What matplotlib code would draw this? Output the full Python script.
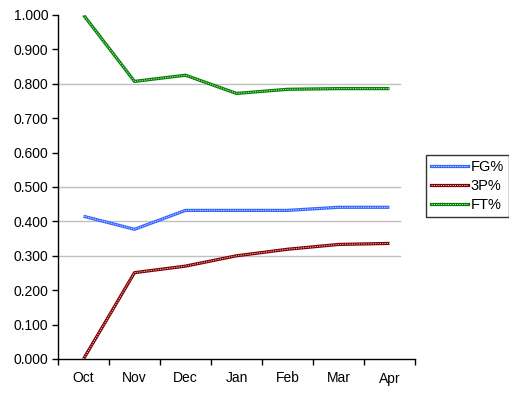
import matplotlib
matplotlib.use("Agg")
import matplotlib.pyplot as plt

months = ["Oct", "Nov", "Dec", "Jan", "Feb", "Mar", "Apr"]
fg = [0.415, 0.377, 0.432, 0.432, 0.432, 0.441, 0.441]
tp = [0.000, 0.251, 0.270, 0.300, 0.319, 0.333, 0.336]
ft = [1.000, 0.807, 0.825, 0.772, 0.784, 0.786, 0.786]
yticks = [0.0, 0.1, 0.2, 0.3, 0.4, 0.5, 0.6, 0.7, 0.8, 0.9, 1.0]
grid_vals = [0.3, 0.4, 0.5, 0.8]

plt.rcParams['font.family'] = ['Liberation Sans', 'DejaVu Sans']
fig = plt.figure(figsize=(5.10, 3.93), dpi=100)
ax = fig.add_axes([58/510, 34/393, (415-58)/510, (359-15)/393])

x = list(range(len(months)))
for g in grid_vals:
    ax.axhline(g, xmin=0, xmax=(400-58)/(415-58), color='#c0c0c0', lw=1, zorder=1)

series = [("FG%", fg, '#3366ff'), ("3P%", tp, '#800000'), ("FT%", ft, '#008000')]
handles = []
for name, vals, col in series:
    ax.plot(x, vals, color=col, lw=2.3, zorder=3, solid_capstyle='butt')
    ax.plot(x, vals, color='white', lw=0.7, dashes=(1.2, 1.2), zorder=4, alpha=0.8)
    h1, = ax.plot([], [], color=col, lw=2.3)
    h2, = ax.plot([], [], color='white', lw=0.7, dashes=(1.2, 1.2), alpha=0.8)
    handles.append((h1, h2))

ax.set_xlim(-0.5, 6.5)
ax.set_ylim(0, 1)
ax.set_yticks(yticks)
ax.set_yticklabels([f"{v:.3f}" for v in yticks], fontsize=10)
ax.set_xticks([i + 0.5 for i in range(-1, 7)], minor=False)
ax.set_xticklabels([])
ax.set_xticks(x, minor=True)
ax.set_xticklabels(months, minor=True, fontsize=10)
ax.tick_params(axis='x', which='major', direction='out', length=4, width=1)
ax.tick_params(axis='x', which='minor', length=0, pad=9)
ax.tick_params(axis='y', direction='out', length=4, width=1, pad=3)
for s in ['top', 'right']:
    ax.spines[s].set_visible(False)
for s in ['left', 'bottom']:
    ax.spines[s].set_linewidth(1)
    ax.spines[s].set_color('black')

leg = fig.legend(handles, [s[0] for s in series], loc='upper left',
                 bbox_to_anchor=(426/510, 1 - 155/393), fontsize=10.5,
                 frameon=True, fancybox=False, handlelength=2.5, handletextpad=0.2,
                 borderpad=0.35, labelspacing=0.35, borderaxespad=0)
leg.get_frame().set_edgecolor('black')
leg.get_frame().set_linewidth(1)

fig.savefig("out.png", dpi=100)
